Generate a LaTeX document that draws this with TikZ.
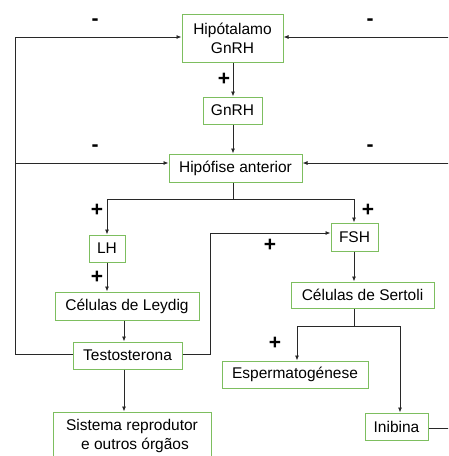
\documentclass[tikz,border=0pt]{standalone}
\usepackage{fontspec}
\setmainfont{Liberation Sans}
\usetikzlibrary{arrows.meta}
\definecolor{boxgreen}{RGB}{125,190,95}
\definecolor{linegray}{RGB}{40,40,40}
\begin{document}
\begin{tikzpicture}[x=1pt,y=-1pt,
  bx/.style={draw=boxgreen,line width=1pt,fill=white,inner sep=0pt,
    font=\fontsize{15.5}{19}\selectfont,align=center},
  ln/.style={draw=linegray,line width=0.8pt},
  ar/.style={ln,-{Latex[length=5pt,width=4pt]}},
  sg/.style={font=\fontsize{21}{21}\selectfont\bfseries,inner sep=0pt}]
\useasboundingbox (0,0) rectangle (448,456);
\clip (0,0) rectangle (448,456);
% boxes
\node[bx,minimum width=101pt,minimum height=48pt] (hip) at (232.5,38) {Hipótalamo\\GnRH};
\node[bx,minimum width=59pt,minimum height=27pt] (gnrh) at (232.5,110.5) {GnRH};
\node[bx,minimum width=133pt,minimum height=28pt] (hipo) at (235.5,168) {Hipófise anterior};
\node[bx,minimum width=36pt,minimum height=27pt] (lh) at (107,248.5) {LH};
\node[bx,minimum width=47pt,minimum height=28pt] (fsh) at (354.5,237) {FSH};
\node[bx,minimum width=144pt,minimum height=28pt] (ley) at (127,306) {Células de Leydig};
\node[bx,minimum width=109pt,minimum height=27pt] (tes) at (127.5,355.5) {Testosterona};
\node[bx,minimum width=158pt,minimum height=48pt] (sis) at (132,436) {Sistema reprodutor\\\hspace*{6pt}e outros órgãos};
\node[bx,minimum width=143pt,minimum height=26pt] (ser) at (362.5,295) {Células de Sertoli};
\node[bx,minimum width=146pt,minimum height=27pt] (esp) at (295,374.5) {Espermatogénese};
\node[bx,minimum width=63pt,minimum height=27pt] (ini) at (396.5,426.5) {Inibina};
% helper coordinates
\coordinate (hb) at (233,199);
\coordinate (lt) at (15,37);
\coordinate (lm) at (15,163);
\coordinate (lb) at (15,354);
\coordinate (tr) at (210,354);
\coordinate (tu) at (210,233);
\coordinate (sb) at (354,326);
\coordinate (rt) at (452,37);
\coordinate (rm) at (452,163);
\coordinate (rb) at (452,428);
% connectors
\draw[ar] (hip.south -| 233,0) -- (gnrh.north -| 233,0);
\draw[ar] (gnrh.south -| 233,0) -- (hipo.north -| 233,0);
\draw[ln] (hipo.south -| 233,0) -- (hb);
\draw[ar] (hb) -| (lh.north -| 107,0);
\draw[ar] (hb) -| (fsh.north -| 354,0);
\draw[ar] (lh.south -| 107,0) -- (ley.north -| 107,0);
\draw[ar] (ley.south -| 124,0) -- (tes.north -| 124,0);
\draw[ar] (tes.south -| 124,0) -- (sis.north -| 124,0);
\draw[ln] (tes.west |- lb) -- (lb) -- (lt);
\draw[ar] (lt) -- (hip.west |- lt);
\draw[ar] (lm) -- (hipo.west |- lm);
\draw[ln] (tes.east |- tr) -- (tr) -- (tu);
\draw[ar] (tu) -- (fsh.west |- tu);
\draw[ar] (fsh.south -| 354,0) -- (ser.north -| 354,0);
\draw[ln] (ser.south -| 354,0) -- (sb);
\draw[ar] (sb) -| (esp.north -| 297,0);
\draw[ar] (sb) -| (ini.north -| 400,0);
\draw[ln] (ini.east |- rb) -- (rb) -- (rt);
\draw[ar] (rt) -- (hip.east |- rt);
\draw[ar] (rm) -- (hipo.east |- rm);
% signs
\node[sg] (m1) at (95,22) {-};
\node[sg] (m2) at (370,22) {-};
\node[sg] (m3) at (95,148) {-};
\node[sg] (m4) at (370,148) {-};
\node[sg] (p1) at (224,79) {+};
\node[sg] (p2) at (97,210) {+};
\node[sg] (p3) at (368,210) {+};
\node[sg] (p4) at (270,245) {+};
\node[sg] (p5) at (97,277) {+};
\node[sg] (p6) at (275,343) {+};
\end{tikzpicture}
\end{document}
